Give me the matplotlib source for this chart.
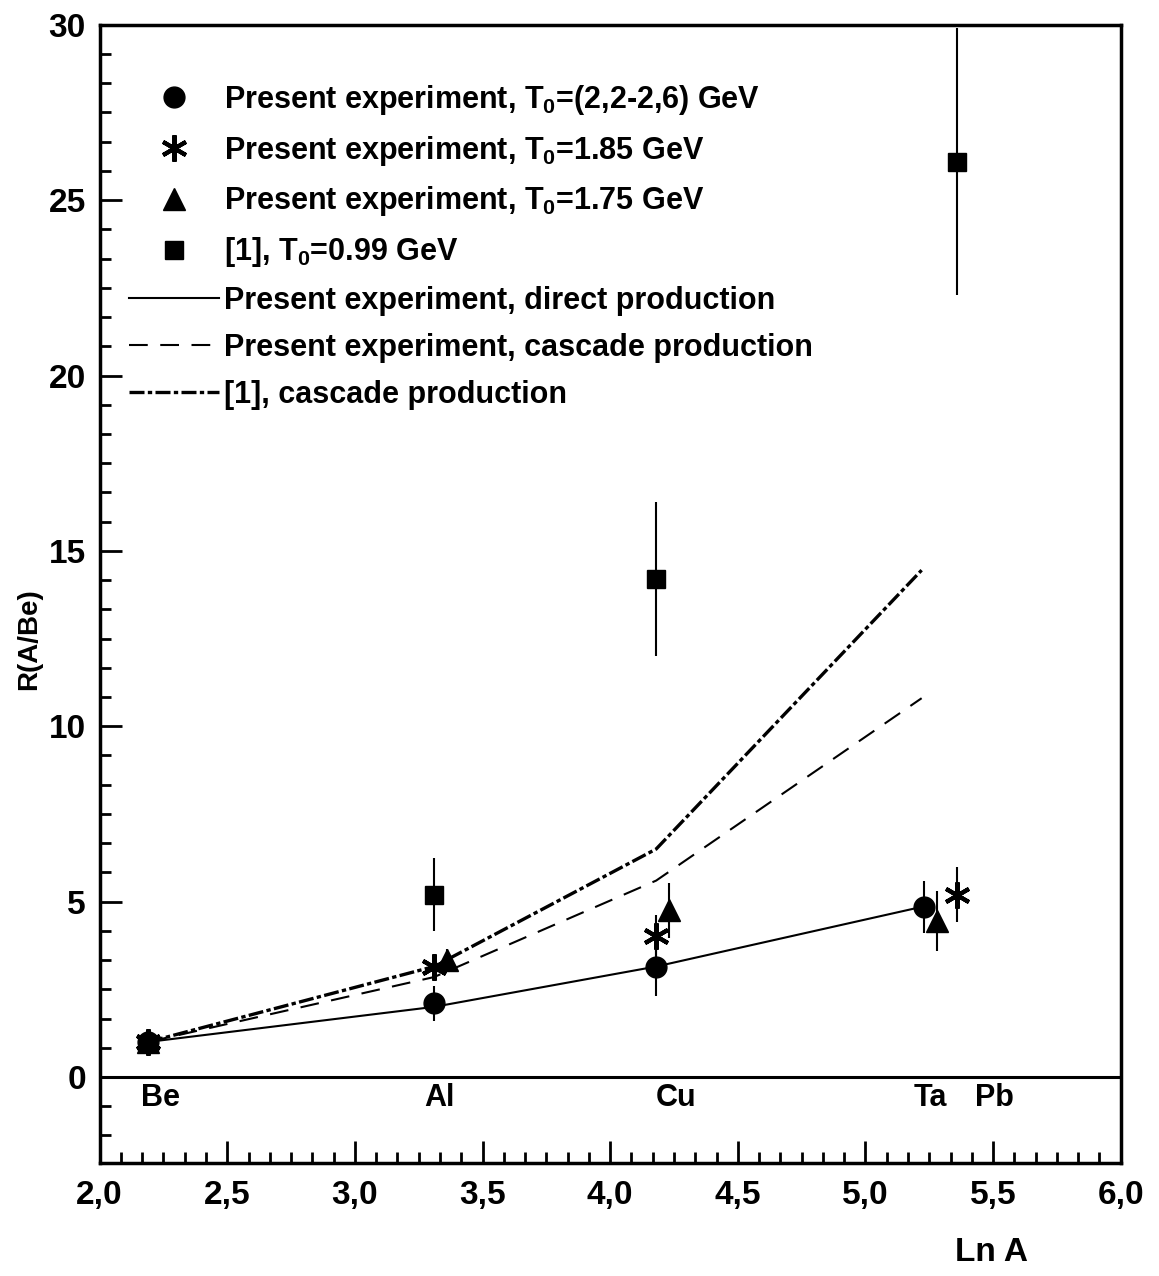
import matplotlib
matplotlib.use("Agg")
import matplotlib.pyplot as plt
from matplotlib.ticker import MultipleLocator, AutoMinorLocator, FuncFormatter

plt.rcParams['font.family'] = ['Liberation Sans', 'DejaVu Sans']
plt.rcParams['font.weight'] = 'bold'
plt.rcParams['mathtext.fontset'] = 'custom'
plt.rcParams['mathtext.rm'] = 'Liberation Sans:bold'
plt.rcParams['mathtext.bf'] = 'Liberation Sans:bold'
plt.rcParams['mathtext.default'] = 'bf'

# data (Ln A, R(A/Be))
circ_x = [2.19, 3.31, 4.18, 5.23]
circ_y = [1.0, 2.1, 3.15, 4.85]
circ_err = [0.0, 0.5, 0.85, 0.75]

star_x = [2.19, 3.31, 4.18, 5.36]
star_y = [1.0, 3.14, 4.02, 5.2]
star_err = [0.0, 0.3, 0.6, 0.78]

tri_x = [2.19, 3.36, 4.23, 5.28]
tri_y = [1.0, 3.35, 4.75, 4.45]
tri_err = [0.0, 0.3, 0.78, 0.85]

sq_x = [3.31, 4.18, 5.36]
sq_y = [5.2, 14.2, 26.1]
sq_err = [1.05, 2.2, 3.8]

line_x = [2.19, 3.31, 4.18, 5.22]
direct_y = [1.0, 2.0, 3.15, 4.85]
cascade_y = [1.0, 2.85, 5.6, 10.8]
cascade1_y = [1.0, 3.15, 6.5, 14.45]

elements = ['Be', 'Al', 'Cu', 'Ta', 'Pb']
element_x = [2.16, 3.27, 4.18, 5.19, 5.43]

fig = plt.figure(figsize=(11.59, 12.76), dpi=100)
ax = fig.add_axes([0.086, 0.0886, 0.881, 0.892])

ax.axhline(0, color='black', lw=2.2, zorder=1)

ax.plot(line_x, direct_y, color='black', lw=1.5, label='Present experiment, direct production')
ax.plot(line_x, cascade_y, color='black', lw=1.5, dashes=(9, 6),
        label='Present experiment, cascade production')
ax.plot(line_x, cascade1_y, color='black', lw=2.4, dashes=(4.5, 1.0, 1.3, 1.0),
        label='[1], cascade production')

eb_kw = dict(color='black', ls='none', elinewidth=1.5, capsize=0, zorder=3)
c = ax.errorbar(circ_x, circ_y, yerr=circ_err, marker='o', ms=15, **eb_kw)
s = ax.errorbar(star_x, star_y, yerr=star_err, marker=(6, 2, 0), ms=19, mew=3, **eb_kw)
t = ax.errorbar(tri_x, tri_y, yerr=tri_err, marker='^', ms=16, **eb_kw)
q = ax.errorbar(sq_x, sq_y, yerr=sq_err, marker='s', ms=13, **eb_kw)

for name, xv in zip(elements, element_x):
    ax.text(xv, -0.6, name, fontsize=22, fontweight='bold', ha='left', va='center')

ax.set_xlim(2.0, 6.0)
ax.set_ylim(-2.45, 30)
ax.xaxis.set_major_locator(MultipleLocator(0.5))
ax.xaxis.set_minor_locator(AutoMinorLocator(6))
ax.yaxis.set_major_locator(MultipleLocator(5))
ax.yaxis.set_minor_locator(AutoMinorLocator(6))
ax.xaxis.set_major_formatter(FuncFormatter(lambda v, p: f"{v:.1f}".replace('.', ',')))
ax.yaxis.set_major_formatter(FuncFormatter(lambda v, p: f"{v:.0f}"))

ax.tick_params(which='both', direction='in', top=False, right=False, width=2, labelsize=24)
ax.tick_params(axis='y', which='major', length=16, pad=10)
ax.tick_params(axis='y', which='minor', length=8)
ax.tick_params(axis='x', which='major', length=16, pad=12)
ax.tick_params(axis='x', which='minor', length=8)
for lab in ax.get_xticklabels() + ax.get_yticklabels():
    lab.set_fontweight('bold')
for sp in ax.spines.values():
    sp.set_linewidth(2.5)

ax.set_ylabel('R(A/Be)', fontsize=20, fontweight='bold')
ax.yaxis.set_label_coords(-0.056, 0.46)
ax.set_xlabel('Ln A', fontsize=24, fontweight='bold')
ax.xaxis.set_label_coords(0.873, -0.065)

handles = [c[0], s[0], t[0], q[0]] + ax.get_lines()[1:4]
labels = [r'Present experiment, T$_0$=(2,2-2,6) GeV',
          r'Present experiment, T$_0$=1.85 GeV',
          r'Present experiment, T$_0$=1.75 GeV',
          r'[1], T$_0$=0.99 GeV',
          'Present experiment, direct production',
          'Present experiment, cascade production',
          '[1], cascade production']
ax.legend(handles, labels, loc='upper left', bbox_to_anchor=(0.029, 0.949),
          frameon=False, borderaxespad=0, borderpad=0, numpoints=1,
          handlelength=2.95, handletextpad=0.15, labelspacing=0.55,
          prop={'size': 22, 'weight': 'bold'})

fig.savefig('out.png', dpi=100)
